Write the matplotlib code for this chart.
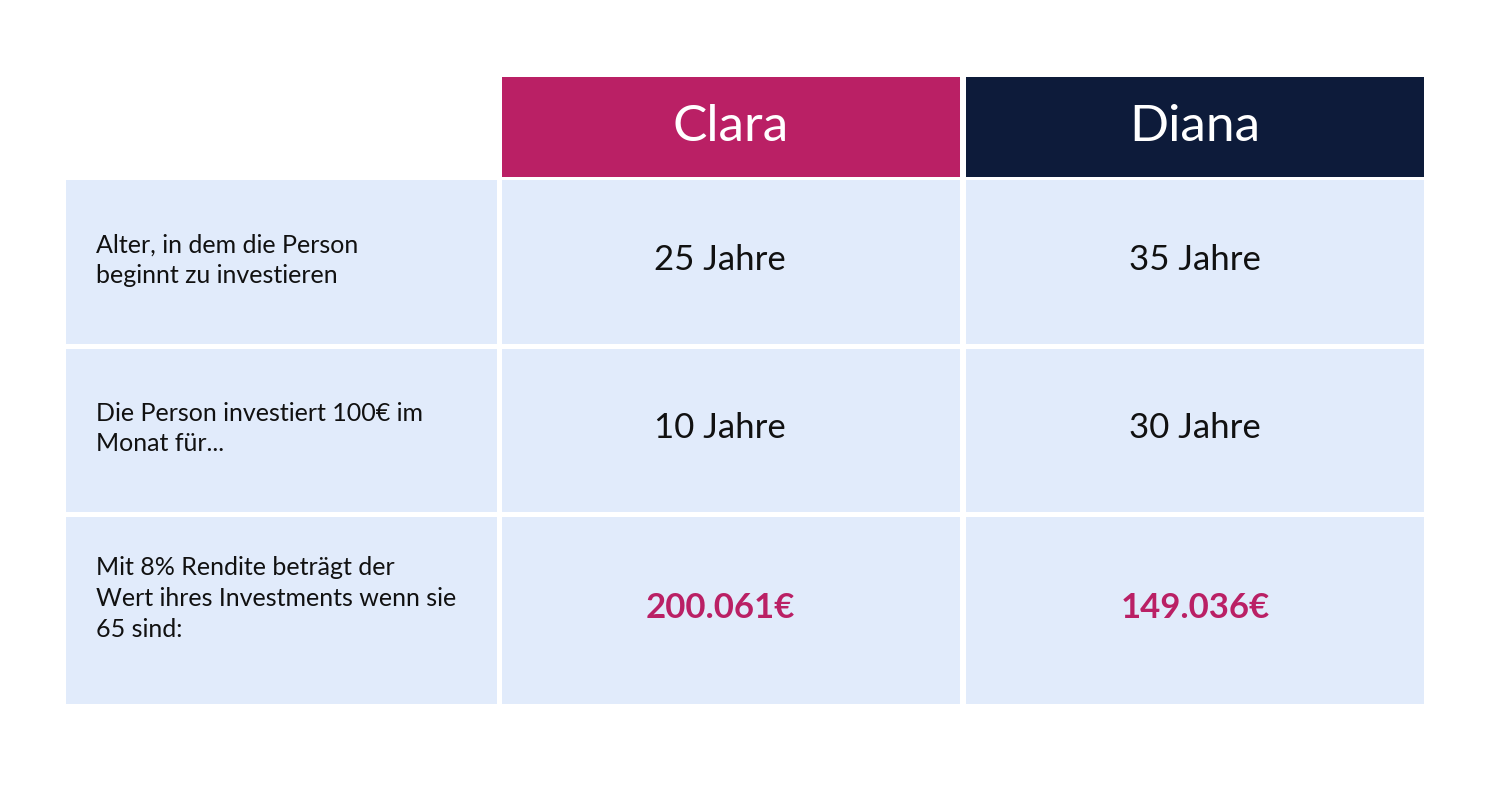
import matplotlib.pyplot as plt
from matplotlib.patches import Rectangle

names = ["Clara", "Diana"]
header_colors = ["#BA2065", "#0D1B3A"]
row_labels = ["Alter, in dem die Person\nbeginnt zu investieren",
              "Die Person investiert 100€ im\nMonat für...",
              "Mit 8% Rendite beträgt der\nWert ihres Investments wenn sie\n65 sind:"]
clara_values = ["25 Jahre", "10 Jahre", "200.061€"]
diana_values = ["35 Jahre", "30 Jahre", "149.036€"]

cell_color = "#E1EBFB"
accent = "#BA2065"

fig = plt.figure(figsize=(15, 8), dpi=100)
ax = fig.add_axes([0, 0, 1, 1])
ax.set_xlim(0, 1500)
ax.set_ylim(800, 0)
ax.axis("off")

col_x = [(66, 497), (502, 960), (966, 1424)]
row_y = [(180, 344), (349, 512), (517, 704)]
value_shift = [0, -11, 0]

# header
for i, name in enumerate(names):
    x0, x1 = col_x[i + 1]
    ax.add_patch(Rectangle((x0, 77), x1 - x0, 100, color=header_colors[i], lw=0))
    ax.text((x0 + x1) / 2, 127, name, color="white", fontsize=37,
            ha="center", va="center", family="Lato")

cols = [row_labels, clara_values, diana_values]
for r, (y0, y1) in enumerate(row_y):
    for c, (x0, x1) in enumerate(col_x):
        ax.add_patch(Rectangle((x0, y0), x1 - x0, y1 - y0, color=cell_color, lw=0))
        txt = cols[c][r]
        if c == 0:
            ax.text(96, (y0 + y1) / 2 - (2 if r < 2 else 12), txt, fontsize=18,
                    ha="left", va="center", family="Lato", linespacing=1.4,
                    color="#111111")
        elif r == 2:
            ax.text((x0 + x1) / 2 + value_shift[c], (y0 + y1) / 2 - 3, txt,
                    fontsize=25, ha="center", va="center", family="Lato",
                    weight="bold", color=accent)
        else:
            ax.text((x0 + x1) / 2 + value_shift[c], (y0 + y1) / 2 - 2, txt,
                    fontsize=25, ha="center", va="center", family="Lato",
                    color="#111111")

fig.savefig("out.png", dpi=100, facecolor="white")
